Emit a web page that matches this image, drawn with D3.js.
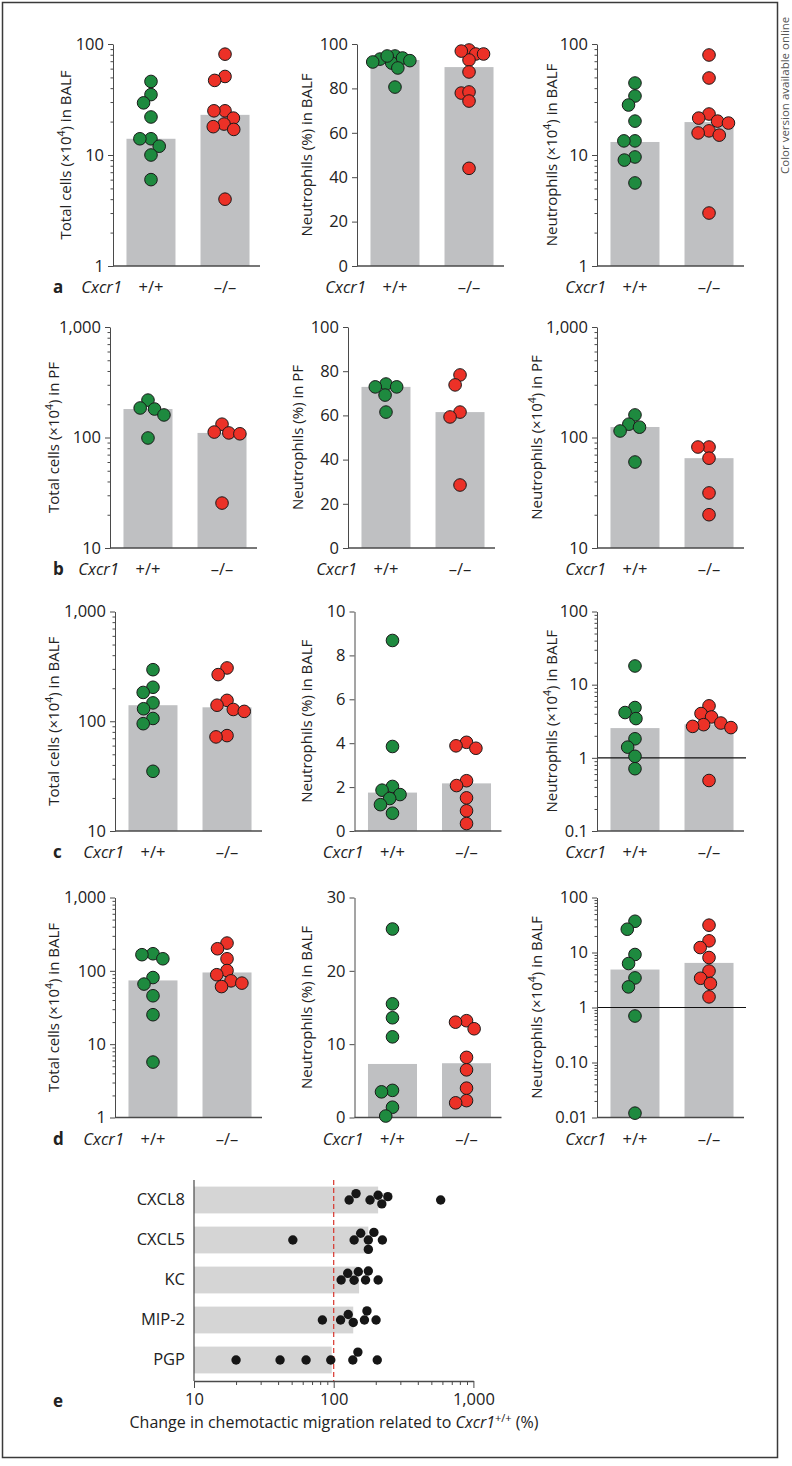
<!DOCTYPE html>
<html><head><meta charset="utf-8">
<script src="https://cdn.jsdelivr.net/npm/d3@7"></script>
<style>
html,body{margin:0;padding:0;background:#fff;}
svg{display:block;font-family:"Open Sans",sans-serif;}
</style></head><body>
<svg id="fig" width="792" height="1466"></svg>
<script>
// ---------- DATA ----------
const groups = ["+/+", "–/–"];
const rowLetters = ["a", "b", "c", "d"];

// Row a (BALF)
const a1WT = [46, 35, 29.5, 22, 14, 14, 12, 10, 6];
const a1KO = [81, 51, 47, 25, 25, 21.5, 19, 18, 17, 4];
const a1Bars = [14, 23];
const a1Ticks = [1, 10, 100];
const a1Labels = ["1", "10", "100"];

const a2WT = [94.6, 93.2, 91.4, 91.9, 93.7, 94.6, 89.2, 92.5, 80.6];
const a2KO = [97.3, 95.5, 92.8, 95.5, 96.8, 87.4, 77.9, 78.4, 74.3, 44];
const a2Bars = [92.8, 89.6];
const a2Ticks = [0, 20, 40, 60, 80, 100];
const a2Labels = ["0", "20", "40", "60", "80", "100"];

const a3WT = [44.5, 34, 28.2, 20.2, 13.4, 13.4, 9.6, 9.0, 5.6];
const a3KO = [79.6, 49.4, 23.4, 21.5, 20.2, 19.4, 16.5, 15.8, 15.1, 3.0];
const a3Bars = [13.1, 19.8];
const a3Ticks = [1, 10, 100];
const a3Labels = ["1", "10", "100"];

// Row b (PF)
const b1WT = [218, 185, 181, 160, 99];
const b1KO = [132, 112, 110, 108, 25.5];
const b1Bars = [181, 110];
const b1Ticks = [10, 100, 1000];
const b1Labels = ["10", "100", "1,000"];

const b2WT = [74.2, 72.9, 72.9, 69.2, 61.5];
const b2KO = [78.3, 73.8, 61.5, 59.3, 28.5];
const b2Bars = [72.9, 61.5];
const b2Ticks = [0, 20, 40, 60, 80, 100];
const b2Labels = ["0", "20", "40", "60", "80", "100"];

const b3WT = [160, 132, 124, 114.5, 60];
const b3KO = [82, 82, 65, 31.5, 20];
const b3Bars = [124.5, 65];
const b3Ticks = [10, 100, 1000];
const b3Labels = ["10", "100", "1,000"];

// Row c (BALF)
const c1WT = [295, 204, 183, 147, 130, 106, 95, 35];
const c1KO = [306, 266, 155, 140, 128, 123, 74, 72];
const c1Bars = [140, 134];
const c1Ticks = [10, 100, 1000];
const c1Labels = ["10", "100", "1,000"];

const c2WT = [8.68, 3.85, 2.03, 1.86, 1.66, 1.48, 1.2, 0.81];
const c2KO = [4.04, 3.88, 3.77, 2.29, 2.07, 1.51, 0.92, 0.34];
const c2Bars = [1.75, 2.17];
const c2Ticks = [0, 2, 4, 6, 8, 10];
const c2Labels = ["0", "2", "4", "6", "8", "10"];

const c3WT = [18.0, 4.87, 4.16, 3.44, 1.82, 1.40, 1.05, 0.71];
const c3KO = [5.13, 4.03, 3.62, 2.99, 2.84, 2.69, 2.59, 0.49];
const c3Bars = [2.55, 2.87];
const c3Ticks = [0.1, 1, 10, 100];
const c3Labels = ["0.1", "1", "10", "100"];

// Row d (BALF)
const d1WT = [171, 166, 146, 81, 66, 45.7, 25.2, 5.7];
const d1KO = [239, 200, 146, 101, 88.5, 73, 68, 61];
const d1Bars = [74, 95];
const d1Ticks = [1, 10, 100, 1000];
const d1Labels = ["1", "10", "100", "1,000"];

const d2WT = [25.7, 15.5, 13.6, 11.0, 3.7, 3.5, 1.4, 0.2];
const d2KO = [13.2, 13.0, 12.1, 8.2, 6.5, 4.0, 2.3, 2.0];
const d2Bars = [7.3, 7.4];
const d2Ticks = [0, 10, 20, 30];
const d2Labels = ["0", "10", "20", "30"];

const d3WT = [37, 26.5, 9.2, 6.3, 3.45, 2.37, 0.70, 0.012];
const d3KO = [31.4, 16.3, 12.3, 8.1, 4.6, 3.4, 2.73, 1.56];
const d3Bars = [4.9, 6.47];
const d3Ticks = [0.01, 0.1, 1, 10, 100];
const d3Labels = ["0.01", "0.10", "1", "10", "100"];

// Panel e
const eCategories = ["CXCL8", "CXCL5", "KC", "MIP-2", "PGP"];
const eCXCL8 = [144.5, 221, 182, 244, 129, 208, 583];
const eCXCL5 = [140, 177, 177, 223, 156, 194, 51];
const eKC = [126, 169, 208, 140, 113, 150, 177];
const eMIP2 = [173, 166, 112, 83, 127, 201, 138];
const ePGP = [20, 41.3, 63.4, 95.3, 149, 205, 137];
const eBars = [208, 177, 152, 138, 96.8];
const eTicks = [10, 100, 1000];
const eTickLabels = ["10", "100", "1,000"];

// ---------- STYLE / LAYOUT ----------
const GREEN = "#1e8a3f", RED = "#ec3127", BAR = "#bfc0c2", EBAR = "#d5d5d5";
const AXIS = "#4a4a4a", TEXT = "#222";
const rowsY = [[44, 266], [327, 548], [611.5, 831], [897.5, 1117.5]];
const axisX = [[113, 357, 597], [110, 348, 597], [115, 354.5, 597], [115, 354.5, 597]];
const titleX = [[65.5, 306.7, 551.7], [53.3, 298, 536.7], [53.3, 307, 551.7], [53.3, 307, 536.7]];

const panels = [
  {row:0,col:0,wt:a1WT,ko:a1KO,bars:a1Bars,ticks:a1Ticks,labels:a1Labels,log:true,kind:"total",site:"BALF"},
  {row:0,col:1,wt:a2WT,ko:a2KO,bars:a2Bars,ticks:a2Ticks,labels:a2Labels,log:false,kind:"pct",site:"BALF",pack:0.62},
  {row:0,col:2,wt:a3WT,ko:a3KO,bars:a3Bars,ticks:a3Ticks,labels:a3Labels,log:true,kind:"neut",site:"BALF"},
  {row:1,col:0,wt:b1WT,ko:b1KO,bars:b1Bars,ticks:b1Ticks,labels:b1Labels,log:true,kind:"total",site:"PF"},
  {row:1,col:1,wt:b2WT,ko:b2KO,bars:b2Bars,ticks:b2Ticks,labels:b2Labels,log:false,kind:"pct",site:"PF"},
  {row:1,col:2,wt:b3WT,ko:b3KO,bars:b3Bars,ticks:b3Ticks,labels:b3Labels,log:true,kind:"neut",site:"PF"},
  {row:2,col:0,wt:c1WT,ko:c1KO,bars:c1Bars,ticks:c1Ticks,labels:c1Labels,log:true,kind:"total",site:"BALF"},
  {row:2,col:1,wt:c2WT,ko:c2KO,bars:c2Bars,ticks:c2Ticks,labels:c2Labels,log:false,kind:"pct",site:"BALF"},
  {row:2,col:2,wt:c3WT,ko:c3KO,bars:c3Bars,ticks:c3Ticks,labels:c3Labels,log:true,kind:"neut",site:"BALF",ref:1},
  {row:3,col:0,wt:d1WT,ko:d1KO,bars:d1Bars,ticks:d1Ticks,labels:d1Labels,log:true,kind:"total",site:"BALF"},
  {row:3,col:1,wt:d2WT,ko:d2KO,bars:d2Bars,ticks:d2Ticks,labels:d2Labels,log:false,kind:"pct",site:"BALF"},
  {row:3,col:2,wt:d3WT,ko:d3KO,bars:d3Bars,ticks:d3Ticks,labels:d3Labels,log:true,kind:"neut",site:"BALF",ref:1}
];

const svg = d3.select("#fig");

// frame
svg.append("rect").attr("x", 2.5).attr("y", 2.5).attr("width", 775).attr("height", 1455)
  .attr("fill", "none").attr("stroke", "#3a3a3a").attr("stroke-width", 1.5);
svg.append("text").attr("transform", "translate(789,174) rotate(-90)")
  .attr("font-size", 11.5).attr("fill", "#555").text("Color version available online");

// beeswarm-style dodge: pos = pixel along value axis, returns perpendicular offsets
function dodge(pos, sep) {
  const d2 = sep * sep;
  const idx = pos.map((p, i) => i).sort((a, b) => pos[a] - pos[b]);
  const off = new Array(pos.length).fill(0);
  const placed = [];
  for (const i of idx) {
    const p = pos[i];
    const cands = [0];
    for (const j of placed) {
      const dp = p - pos[j];
      if (Math.abs(dp) < sep) {
        const dx = Math.sqrt(d2 - dp * dp);
        cands.push(off[j] + dx, off[j] - dx);
      }
    }
    cands.sort((a, b) => Math.abs(a) - Math.abs(b) || a - b);
    for (const c of cands) {
      if (placed.every(j => (off[j] - c) ** 2 + (pos[j] - p) ** 2 >= d2 - 1e-6)) { off[i] = c; break; }
    }
    placed.push(i);
  }
  return off;
}

function minorTicks(domain) {
  const out = [];
  const e0 = Math.round(Math.log10(domain[0])), e1 = Math.round(Math.log10(domain[1]));
  for (let e = e0; e < e1; e++) for (let k = 2; k <= 9; k++) out.push(k * Math.pow(10, e));
  return out;
}

function addTitle(sel, kind, site) {
  if (kind === "pct") { sel.text("Neutrophils (%) in " + site); return; }
  sel.append("tspan").text(kind === "total" ? "Total cells (×10" : "Neutrophils (×10");
  sel.append("tspan").attr("font-size", 10.5).attr("dy", -6).text("4");
  sel.append("tspan").attr("dy", 6).text(") in " + site);
}

const R = 6.3;
panels.forEach(p => {
  const [y0, y1] = rowsY[p.row];
  const ax = axisX[p.row][p.col];
  const g = svg.append("g");
  const domain = [p.ticks[0], p.ticks[p.ticks.length - 1]];
  const y = (p.log ? d3.scaleLog() : d3.scaleLinear()).domain(domain).range([y1, y0]);
  const x = d3.scaleBand().domain(groups).range([ax, ax + 150]).paddingInner(0.338).paddingOuter(0.182);

  g.selectAll("rect.bar").data(groups.map((k, i) => ({k, v: p.bars[i]}))).join("rect")
    .attr("x", d => x(d.k)).attr("width", x.bandwidth())
    .attr("y", d => y(d.v)).attr("height", d => y1 - y(d.v)).attr("fill", BAR);

  if (p.ref !== undefined) {
    g.append("line").attr("x1", ax).attr("x2", ax + 149).attr("y1", y(p.ref)).attr("y2", y(p.ref))
      .attr("stroke", "#111").attr("stroke-width", 1.2);
  }

  // y axis
  const ga = g.append("g").attr("transform", `translate(${ax},0)`)
    .call(d3.axisLeft(y).tickValues(p.ticks).tickFormat((d, i) => p.labels[i]).tickSize(5).tickSizeOuter(0).tickPadding(4));
  if (p.log) {
    ga.call(g2 => g2.append("g").call(d3.axisLeft(y).tickValues(minorTicks(domain)).tickFormat("").tickSize(2.5).tickSizeOuter(0))
      .select(".domain").remove());
  }
  ga.attr("font-size", 16.5).attr("font-family", null);
  ga.selectAll("path.domain").attr("stroke", AXIS);
  ga.selectAll(".tick line").attr("stroke", AXIS);
  ga.selectAll(".tick text").attr("fill", TEXT);

  // x axis baseline
  g.append("line").attr("x1", ax).attr("x2", ax + 147).attr("y1", y1).attr("y2", y1)
    .attr("stroke", AXIS).attr("stroke-width", 1.6);

  // y title
  const t = g.append("text").attr("transform", `translate(${titleX[p.row][p.col]},${(y0 + y1) / 2}) rotate(-90)`)
    .attr("text-anchor", "middle").attr("dy", "0.36em").attr("font-size", 15).attr("fill", TEXT);
  addTitle(t, p.kind, p.site);

  // dots
  const pack = p.pack || 0.88;
  [[p.wt, GREEN, 0], [p.ko, RED, 1]].forEach(([vals, col, gi]) => {
    const cx = x(groups[gi]) + x.bandwidth() / 2;
    const pos = vals.map(v => y(v));
    const off = dodge(pos, 2 * R * pack);
    g.selectAll(null).data(vals).join("circle")
      .attr("cx", (d, i) => cx + off[i]).attr("cy", d => y(d)).attr("r", R)
      .attr("fill", col).attr("stroke", "#1a1a1a").attr("stroke-width", 1);
  });

  // label row
  const ly = y1 + 27;
  const c0 = x(groups[0]) + x.bandwidth() / 2;
  if (p.col === 0) {
    g.append("text").attr("x", 53).attr("y", ly).attr("font-size", 17).attr("font-weight", "bold")
      .attr("fill", TEXT).text(rowLetters[p.row]);
  }
  g.append("text").attr("x", c0 - 29).attr("y", ly).attr("text-anchor", "end").attr("font-size", 16.5)
    .attr("font-style", "italic").attr("fill", TEXT).text("Cxcr1");
  groups.forEach(k => {
    g.append("text").attr("x", x(k) + x.bandwidth() / 2).attr("y", ly).attr("text-anchor", "middle")
      .attr("font-size", 16.5).attr("fill", TEXT).text(k);
  });
});

// ---------- PANEL e ----------
(function () {
  const eVals = [eCXCL8, eCXCL5, eKC, eMIP2, ePGP];
  const g = svg.append("g");
  const x = d3.scaleLog().domain([eTicks[0], eTicks[eTicks.length - 1]]).range([194, 473.4]);
  const y = d3.scaleBand().domain(eCategories).range([1180, 1380]).paddingInner(0.33).paddingOuter(0.165);

  g.selectAll("rect").data(eCategories.map((c, i) => ({c, v: eBars[i]}))).join("rect")
    .attr("x", x(eTicks[0])).attr("y", d => y(d.c)).attr("height", y.bandwidth())
    .attr("width", d => x(d.v) - x(eTicks[0])).attr("fill", EBAR);

  g.append("line").attr("x1", x(100)).attr("x2", x(100)).attr("y1", 1180).attr("y2", 1381)
    .attr("stroke", "#d8352d").attr("stroke-width", 1.2).attr("stroke-dasharray", "5,3");

  const ga = g.append("g").attr("transform", "translate(0,1381)")
    .call(d3.axisBottom(x).tickValues(eTicks).tickFormat((d, i) => eTickLabels[i]).tickSize(7).tickSizeOuter(0).tickPadding(5));
  ga.append("g").call(d3.axisBottom(x).tickValues(minorTicks([10, 1000])).tickFormat("").tickSize(4).tickSizeOuter(0))
    .select(".domain").remove();
  ga.attr("font-size", 16.5).attr("font-family", null);
  ga.selectAll("path.domain").attr("stroke", AXIS).attr("stroke-width", 1.4);
  ga.selectAll(".tick line").attr("stroke", AXIS);
  ga.selectAll(".tick text").attr("fill", TEXT);

  const gy = g.append("g").attr("transform", "translate(194,0)")
    .call(d3.axisLeft(y).tickSize(0).tickPadding(9));
  gy.attr("font-size", 16.5).attr("font-family", null);
  gy.select("path.domain").attr("stroke", AXIS).attr("stroke-width", 1.2).attr("d", "M0,1180V1381");
  gy.selectAll(".tick text").attr("fill", TEXT);

  eVals.forEach((vals, ci) => {
    const cy = y(eCategories[ci]) + y.bandwidth() / 2;
    const off = dodge(vals.map(v => x(v)), 9.4);
    g.selectAll(null).data(vals).join("circle")
      .attr("cx", d => x(d)).attr("cy", (d, i) => cy + off[i]).attr("r", 4.7).attr("fill", "#161616");
  });

  svg.append("text").attr("x", 53).attr("y", 1407).attr("font-size", 17).attr("font-weight", "bold")
    .attr("fill", TEXT).text("e");
  const tt = svg.append("text").attr("x", 334).attr("y", 1428).attr("text-anchor", "middle")
    .attr("font-size", 16).attr("fill", TEXT);
  tt.append("tspan").text("Change in chemotactic migration related to ");
  tt.append("tspan").attr("font-style", "italic").text("Cxcr1");
  tt.append("tspan").attr("font-size", 11).attr("dy", -6).text("+/+");
  tt.append("tspan").attr("dy", 6).text(" (%)");
})();
</script>
</body></html>
